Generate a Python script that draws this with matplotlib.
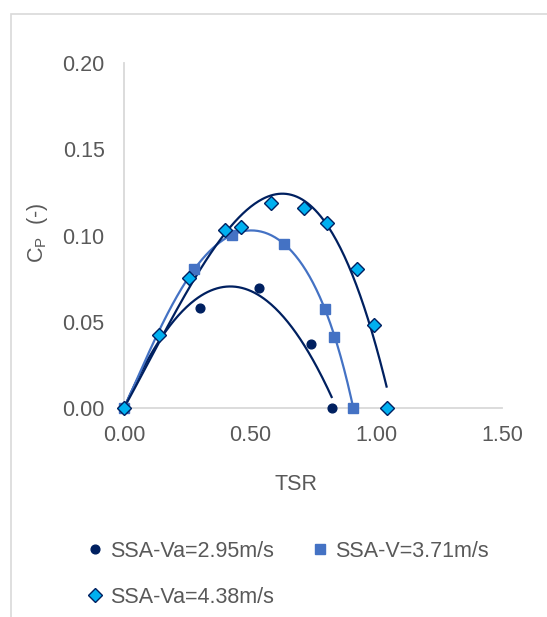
import matplotlib
matplotlib.use("Agg")
import matplotlib.pyplot as plt
import numpy as np
from matplotlib.lines import Line2D
from matplotlib.patches import Rectangle

plt.rcParams["font.family"] = ["Liberation Sans", "DejaVu Sans"]
plt.rcParams["mathtext.fontset"] = "custom"
plt.rcParams["mathtext.rm"] = "Liberation Sans"

NAVY = "#002060"
BLUE = "#4472C4"
CYAN = "#00B0F0"
TEXT = "#595959"

# SSA-Va=2.95m/s
tsr_295 = [0.0, 0.30, 0.537, 0.741, 0.824]
cp_295 = [0.0, 0.0578, 0.0694, 0.0369, 0.0]
# SSA-V=3.71m/s
tsr_371 = [0.0, 0.279, 0.427, 0.636, 0.798, 0.835, 0.910]
cp_371 = [0.0, 0.0804, 0.1003, 0.0949, 0.0576, 0.0413, 0.0]
# SSA-Va=4.38m/s
tsr_438 = [0.0, 0.140, 0.259, 0.401, 0.464, 0.582, 0.714, 0.807, 0.923, 0.993, 1.042]
cp_438 = [0.0, 0.0423, 0.0752, 0.1032, 0.1051, 0.119, 0.1158, 0.1074, 0.0806, 0.0481, 0.0]

labels = ["SSA-Va=2.95m/s", "SSA-V=3.71m/s", "SSA-Va=4.38m/s"]
x_ticks = [0.0, 0.5, 1.0, 1.5]
y_ticks = [0.0, 0.05, 0.10, 0.15, 0.20]


def trendline(ax, x, y, order, color):
    # polynomial trendline with the intercept fixed at zero
    x = np.asarray(x)
    powers = np.arange(1, order + 1)
    coef, *_ = np.linalg.lstsq(x[:, None] ** powers, np.asarray(y), rcond=None)
    xs = np.linspace(0, x.max(), 200)
    ax.plot(xs, (xs[:, None] ** powers) @ coef, color=color, lw=1.6, zorder=2)


W, H = 547, 617
fig = plt.figure(figsize=(W / 100, H / 100), dpi=100)
ax = fig.add_axes([124 / W, (H - 408) / H, (502 - 124) / W, (408 - 63) / H])

trendline(ax, tsr_295, cp_295, 2, NAVY)
trendline(ax, tsr_371, cp_371, 5, BLUE)
trendline(ax, tsr_438, cp_438, 3, NAVY)

ax.plot(tsr_295, cp_295, "o", color=NAVY, ms=6.3, ls="none", zorder=3, clip_on=False)
ax.plot(tsr_371, cp_371, "s", color=BLUE, ms=6.5, ls="none", zorder=3, clip_on=False)
ax.plot(tsr_438, cp_438, "D", mfc=CYAN, mec=NAVY, mew=1.0, ms=6.8, ls="none", zorder=4,
        clip_on=False)

ax.set_xlim(0, 1.5)
ax.set_ylim(0, 0.20)
ax.set_xticks(x_ticks)
ax.set_yticks(y_ticks)
ax.set_xticklabels([f"{v:.2f}" for v in x_ticks])
ax.set_yticklabels([f"{v:.2f}" for v in y_ticks])
ax.tick_params(length=0, labelsize=15.5, colors=TEXT, pad=12)
ax.tick_params(axis="y", pad=14)
ax.spines["top"].set_visible(False)
ax.spines["right"].set_visible(False)
ax.spines["left"].set_color("#D9D9D9")
ax.spines["bottom"].set_color("#D9D9D9")
ax.spines["left"].set_linewidth(1.3)
ax.spines["bottom"].set_linewidth(1.3)
for s in ("left", "bottom"):
    ax.spines[s].set_zorder(1)

fig.text(296 / W, 1 - 485 / H, "TSR", ha="center", va="center", fontsize=15.5, color=TEXT)
fig.text(38 / W, 1 - 233 / H, r"C$_\mathregular{P}$  (-)", ha="center", va="center",
         rotation=90, fontsize=15.5, color=TEXT)

handles = [
    Line2D([], [], marker="o", color=NAVY, ms=6.3, ls="none"),
    Line2D([], [], marker="D", mfc=CYAN, mec=NAVY, mew=1.0, ms=6.8, ls="none"),
    Line2D([], [], marker="s", color=BLUE, ms=6.5, ls="none"),
]
leg = fig.legend(handles, [labels[0], labels[2], labels[1]], ncol=2,
                 loc="upper left", bbox_to_anchor=(86 / W, 1 - 541 / H),
                 frameon=False, fontsize=15.5, handlelength=0.8, handletextpad=0.3,
                 columnspacing=1.77, labelspacing=1.15, borderpad=0, borderaxespad=0)
for t in leg.get_texts():
    t.set_color(TEXT)

fig.patches.append(Rectangle((10.5 / W, -0.1), 1.2, 1.1 - 14 / H, transform=fig.transFigure,
                             fill=False, edgecolor="#D9D9D9", lw=1.2))

fig.savefig("out.png", dpi=100)
